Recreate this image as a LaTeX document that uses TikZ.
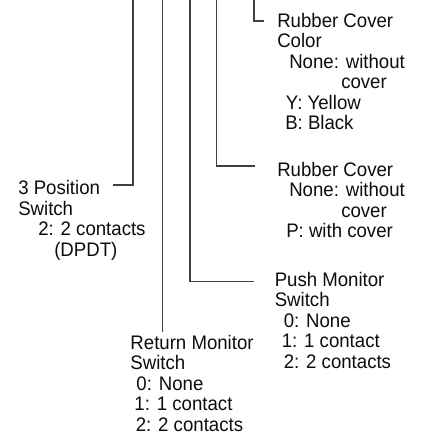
\documentclass[tikz,border=0pt]{standalone}
\usepackage{fontspec}
\setmainfont{Liberation Sans}[FakeStretch=0.95]
\begin{document}
\begin{tikzpicture}[x=0.75pt,y=-0.75pt,
  lead/.style={draw=black!75, line width=0.8pt},
  % text blocks are placed by the baseline of their last line
  txt/.style={anchor=base west, inner sep=0pt, align=left, text=black!95,
    font=\fontsize{14.7pt}{15.3pt}\selectfont}]
\useasboundingbox (0,0) rectangle (422,436);

% code-position leader lines, entering from the top edge
\coordinate (t1) at (133,0);   \coordinate (k1) at (113,185);
\coordinate (t2) at (162.5,0); \coordinate (k2) at (162.5,332);
\coordinate (t3) at (190,0);   \coordinate (k3) at (254,281.5);
\coordinate (t4) at (216.5,0); \coordinate (k4) at (255,166);
\coordinate (t5) at (254,0);   \coordinate (k5) at (264,21);

\draw[lead] (t1) |- (k1);
\draw[lead] (t2) -- (k2);
\draw[lead] (t3) |- (k3);
\draw[lead] (t4) |- (k4);
\draw[lead] (t5) |- (k5);

% option descriptions
\node[txt] (color) at (277,129.5) {Rubber Cover\\Color\\\hspace*{9pt}None: without\\\hspace*{48pt}cover\\\hspace*{6.5pt}Y: Yellow\\\hspace*{6pt}B: Black};
\node[txt] (cover) at (277,237.7) {Rubber Cover\\\hspace*{9pt}None: without\\\hspace*{48pt}cover\\\hspace*{6.75pt}P: with cover};
\node[txt] (pos) at (18,256) {3 Position\\Switch\\\hspace*{15pt}2: 2 contacts\\\hspace*{27pt}(DPDT)};
\node[txt] (push) at (274.5,368.1) {Push Monitor\\Switch\\\hspace*{6.75pt}0: None\\\hspace*{5.25pt}1: 1 contact\\\hspace*{6.75pt}2: 2 contacts};
\node[txt] (ret) at (130.2,431) {Return Monitor\\Switch\\\hspace*{4.5pt}0: None\\\hspace*{3pt}1: 1 contact\\\hspace*{4pt}2: 2 contacts};
\end{tikzpicture}
\end{document}
